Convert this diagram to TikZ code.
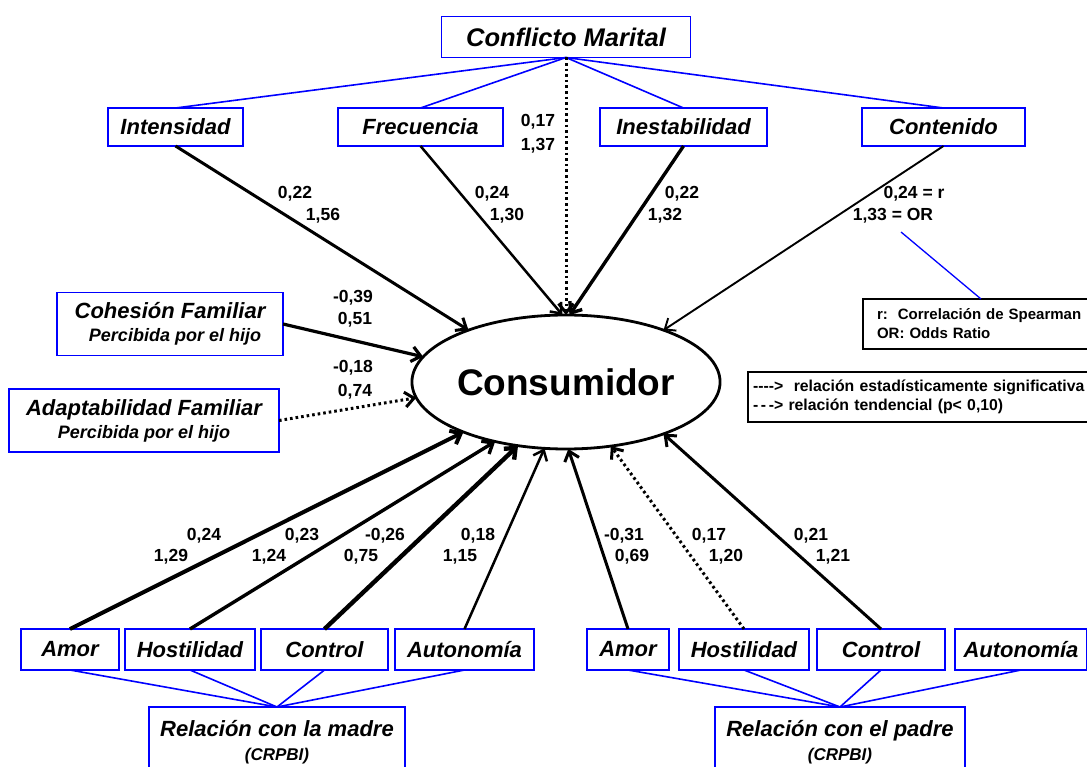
\documentclass[tikz,border=0pt]{standalone}
\usepackage{fontspec}
\setmainfont{Liberation Sans}[Ligatures=TeXOff]
\usetikzlibrary{shapes.geometric,arrows.meta,calc}
\tikzset{
  bx/.style={draw=blue, line width=1.8pt, fill=white, inner sep=0pt, outer sep=0pt,
    font=\fontsize{22}{26}\selectfont\bfseries\itshape, minimum height=#1},
  bx/.default=38pt,
  bline/.style={draw=blue, line width=1.6pt},
  num/.style={font=\fontsize{17.5}{20}\selectfont\bfseries, inner sep=0pt, text=black},
  arr/.style={draw=black, -{Straight Barb[length=9pt,width=15pt]}},
  dotarr/.style={arr, dash pattern=on 2.6pt off 3pt, line width=3pt},
  lg/.style={draw=black, line width=1.8pt, fill=white, inner ysep=0pt, outer sep=0pt,
    font=\fontsize{15}{19}\selectfont\bfseries, align=left, anchor=west, minimum height=50pt},
}
\begin{document}
\begin{tikzpicture}[x=1pt,y=-1pt]
\useasboundingbox (0,0) rectangle (1087,767);
\clip (0,0) rectangle (1087,767);
\fill[white] (0,0) rectangle (1087,767);

% top boxes
\node[bx=41pt, minimum width=249pt, font=\fontsize{25.5}{30}\selectfont\bfseries\itshape] (cm) at (566,37) {Conflicto Marital};
\node[bx, minimum width=135pt] (int) at (175.5,127) {Intensidad};
\node[bx, minimum width=165pt] (fre) at (420.5,127) {Frecuencia};
\node[bx, minimum width=167pt] (ine) at (683.5,127) {Inestabilidad};
\node[bx, minimum width=163pt] (con) at (943.5,127) {Contenido};

% central ellipse
\node[ellipse, draw=black, line width=2.8pt, minimum width=261pt, minimum height=134pt,
  inner sep=0pt, outer sep=0pt, font=\fontsize{37}{42}\selectfont\bfseries] (cons) at (566,382) {Consumidor};

% left boxes
\node[bx=63pt, minimum width=226pt, align=center] (coh) at (170,324)
  {Cohesión Familiar\\[-3pt]\hspace*{10pt}{\fontsize{18}{22}\selectfont Percibida por el hijo}};
\node[bx=63pt, minimum width=270pt, align=center] (adap) at (144,420.5)
  {Adaptabilidad Familiar\\[-3pt]{\fontsize{18}{22}\selectfont Percibida por el hijo}};

% bottom boxes
\node[bx=41pt, minimum width=98pt] (amM) at (70,649.5) {Amor};
\node[bx=41pt, minimum width=130pt] (hoM) at (190,649.5) {Hostilidad};
\node[bx=41pt, minimum width=127pt] (ctM) at (324.5,649.5) {Control};
\node[bx=41pt, minimum width=139pt] (auM) at (464.5,649.5) {Autonomía};
\node[bx=41pt, minimum width=82pt] (amP) at (628,649.5) {Amor};
\node[bx=41pt, minimum width=130pt] (hoP) at (744,649.5) {Hostilidad};
\node[bx=41pt, minimum width=128pt] (ctP) at (881,649.5) {Control};
\node[bx=41pt, minimum width=132pt] (auP) at (1021,649.5) {Autonomía};

\node[bx=70pt, minimum width=256pt, align=center] (relM) at (277,742)
  {Relación con la madre\\[-2pt]{\fontsize{17}{20}\selectfont (CRPBI)}};
\node[bx=70pt, minimum width=250pt, align=center] (relP) at (840,742)
  {Relación con el padre\\[-2pt]{\fontsize{17}{20}\selectfont (CRPBI)}};

% legends
\node[lg, minimum width=240pt, inner xsep=14pt, text width=212pt] (leg1) at (863,324)
  {r:\ \ Correlación de Spearman\\OR: Odds Ratio};
\node[lg, minimum width=360pt, inner xsep=5pt, text width=350pt, font=\fontsize{15.8}{19}\selectfont\bfseries] (leg2) at (748,397)
  {---->\ \ relación estadísticamente significativa\\-\,-\,-> relación tendencial (p< 0,10)};

% blue structure lines
\draw[bline] (cm.south) -- (int.north);
\draw[bline] (cm.south) -- (fre.north);
\draw[bline] (cm.south) -- (ine.north);
\draw[bline] (cm.south) -- (con.north);
\foreach \b in {amM,hoM,ctM,auM} \draw[bline] (\b.south) -- (relM.north);
\foreach \b in {amP,hoP,ctP,auP} \draw[bline] (\b.south) -- (relP.north);
\coordinate (orpt) at (901,232);
\coordinate (legpt) at ($(leg1.north west)+(118,0)$);
\draw[draw=blue, line width=1.3pt] (orpt) -- (legpt);

% arrows to Consumidor
\draw[arr, line width=3pt] (int.south) -- (cons.152);
\draw[arr, line width=2.5pt] (fre.south) -- (cons.93);
\draw[dotarr] (cm.south) -- (cons.90);
\draw[arr, line width=3.4pt] (ine.south) -- (cons.87);
\draw[arr, line width=1.9pt] (con.south) -- (cons.28);
\draw[arr, line width=3.2pt] (coh.east) -- (cons.170);
\draw[dotarr] (adap.east) -- (cons.186);
\draw[arr, line width=4pt] (amM.north) -- (cons.206);
\draw[arr, line width=3.4pt] (hoM.north) -- (cons.220);
\draw[arr, line width=4.4pt] (ctM.north) -- (cons.233);
\draw[arr, line width=2.5pt] (auM.north) -- (cons.252);
\draw[arr, line width=3pt] (amP.north) -- (cons.272);
\draw[dotarr] (hoP.north) -- (cons.305);
\draw[arr, line width=3pt] (ctP.north) -- (cons.332);

% labels
\node[num] (l1a) at (538,122) {0,17};
\node[num] (l1b) at (538,146) {1,37};
\node[num] (l2a) at (295,194) {0,22};
\node[num] (l2b) at (323,216) {1,56};
\node[num] (l3a) at (492,194) {0,24};
\node[num] (l3b) at (507,216) {1,30};
\node[num] (l4a) at (682,194) {0,22};
\node[num] (l4b) at (665,216) {1,32};
\node[num] (l5a) at (914,194) {0,24 = r};
\node[num] (l5b) at (893,216) {1,33 = OR};
\node[num] (l6a) at (353,298) {-0,39};
\node[num] (l6b) at (355,320) {0,51};
\node[num] (l7a) at (353,368) {-0,18};
\node[num] (l7b) at (355,392) {0,74};
\node[num] (b1a) at (204,536) {0,24};
\node[num] (b1b) at (171,557) {1,29};
\node[num] (b2a) at (302,536) {0,23};
\node[num] (b2b) at (269,557) {1,24};
\node[num] (b3a) at (385,536) {-0,26};
\node[num] (b3b) at (361,557) {0,75};
\node[num] (b4a) at (478,536) {0,18};
\node[num] (b4b) at (460,557) {1,15};
\node[num] (b5a) at (624,536) {-0,31};
\node[num] (b5b) at (632,557) {0,69};
\node[num] (b6a) at (709,536) {0,17};
\node[num] (b6b) at (726,557) {1,20};
\node[num] (b7a) at (811,536) {0,21};
\node[num] (b7b) at (833,557) {1,21};
\end{tikzpicture}
\end{document}
